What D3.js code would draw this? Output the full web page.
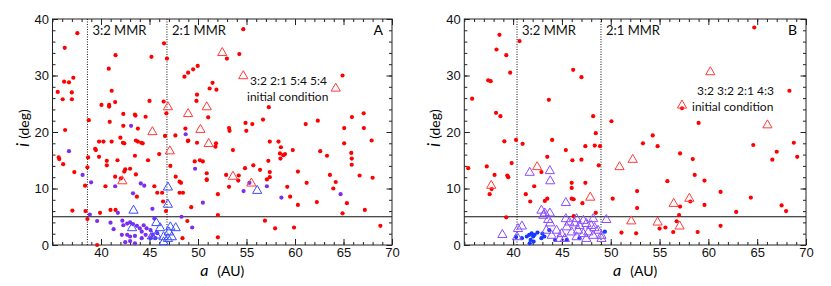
<!DOCTYPE html>
<html>
<head>
<meta charset="utf-8">
<script src="https://cdn.jsdelivr.net/npm/d3@7"></script>
<style>
  body { margin: 0; background: #fff; }
  svg { font-family: Lato, "DejaVu Sans", sans-serif; }
  .frame { fill: none; stroke: #222; stroke-width: 1; }
  .axis path { display: none; }
  .axis line { stroke: #222; }
  .axis text { font-size: 13px; fill: #111; }
  .mmr { stroke: #111; stroke-dasharray: 1,1.5; }
  .cut { stroke: #111; }
  .note { font-size: 12px; fill: #111; }
</style>
</head>
<body>
<svg id="chart" width="831" height="286"></svg>
<script>
// panel A values [a (AU), i (deg)]
const redDotsA = [
  [37.56,37.5],[36.26,34.9],[35.54,27.1],[36.05,25.8],[36.2,28.9],[36.7,28.8],[37.15,29.6],[36.99,27.0],[37.0,25.8],[36.3,20.35],
  [38.74,22.1],[40.8,31.2],[41.5,33.6],[41.1,27.3],[40.05,24.8],[40.84,24.8],[40.84,24.5],[41.46,25.3],[40.9,21.8],[42.3,23.2],
  [42.3,21.1],[43.5,23.1],[43.55,22.9],[43.8,20.6],[44.6,22.7],[45.0,25.5],[45.2,33.3],[46.46,25.4],[46.5,35.7],[46.8,33.0],
  [46.74,23.3],[46.6,19.3],[47.67,19.4],[48.7,20.6],[48.6,29.8],[48.98,30.5],[49.5,31.1],[49.97,31.7],[49.9,26.6],[49.84,25.5],
  [51.05,22.6],[51.2,27.7],[51.9,27.5],[51.5,28.7],[42.0,19.0],[42.26,18.1],[42.4,18.0],[39.8,18.3],[40.25,18.3],[39.4,17.0],
  [41.1,18.3],[43.6,18.5],[43.8,18.3],[44.15,18.1],[44.3,18.0],[49.0,18.5],[49.9,18.1],[54.67,38.2],[54.26,33.8],[52.98,33.0],
  [54.9,21.6],[55.6,21.4],[54.98,20.2],[53.2,20.7],[53.25,20.2],[48.95,18.4],[51.86,18.0],[53.6,16.8],[64.9,30.0],[57.3,24.4],
  [56.7,22.2],[61.1,21.4],[62.35,22.0],[65.87,22.65],[67.08,23.3],[65.07,20.7],[67.1,20.7],[67.9,18.5],[65.07,18.0],[57.4,18.3],
  [58.3,18.3],[58.55,17.3],[59.77,16.8],[62.6,16.6],[35.64,15.5],[35.7,15.2],[36.1,14.3],[37.25,12.9],[38.67,15.5],[38.6,13.75],
  [38.36,10.5],[37.05,6.1],[38.4,6.0],[38.6,4.6],[39.6,0.0],[39.9,5.7],[39.47,16.8],[39.8,15.6],[40.6,14.9],[40.6,14.1],
  [40.98,6.2],[41.5,6.2],[40.46,10.4],[41.46,12.1],[41.7,15.0],[42.05,11.8],[42.4,13.0],[42.5,13.4],[43.0,13.5],[43.5,15.8],
  [43.6,12.5],[44.85,15.0],[45.5,10.4],[46.0,16.1],[45.8,9.25],[46.3,9.25],[47.15,14.0],[47.7,12.1],[48.1,11.2],[48.25,11.0],
  [48.1,9.25],[48.45,9.25],[46.4,7.7],[46.7,6.0],[49.66,14.8],[50.2,15.0],[50.5,14.8],[50.9,11.5],[49.3,6.7],[48.9,4.25],
  [48.4,1.2],[43.7,8.55],[51.8,17.4],[58.45,16.2],[58.5,15.3],[58.8,15.9],[58.97,16.1],[57.25,14.9],[56.4,13.3],[55.7,14.1],
  [54.85,13.6],[52.9,12.4],[53.2,10.3],[54.2,12.3],[54.15,11.4],[50.9,12.7],[50.9,11.6],[57.1,11.6],[57.4,12.0],[57.4,12.9],
  [59.2,10.3],[59.5,8.55],[60.3,13.0],[61.2,11.0],[60.3,7.1],[52.05,9.0],[52.05,5.3],[52.05,1.35],[56.9,4.3],[57.95,2.95],
  [59.9,3.1],[63.3,15.8],[63.6,12.4],[64.2,11.15],[63.95,10.0],[65.8,16.3],[65.85,15.3],[65.85,14.2],[66.66,12.3],[68.0,11.9],
  [62.25,7.6],[65.35,7.4],[64.9,5.6],[67.2,6.2],[68.8,3.4]
];
const purpleDotsA = [
  [43.1,21.1],[48.73,19.6],[36.7,16.6],[38.1,12.4],[38.98,11.1],[38.85,5.4],[39.6,4.25],[41.46,10.4],[41.74,5.7],[40.98,3.95],
  [41.3,2.8],[43.3,9.15],[44.1,10.9],[44.46,10.5],[48.3,5.0],[49.7,13.5],[50.5,7.5],[49.4,3.1],[45.3,6.4],[45.5,4.7],
  [42.2,4.3],[42.3,3.5],[42.7,3.8],[43.0,4.0],[43.3,3.7],[42.15,1.8],[42.7,1.8],[43.0,1.5],[43.5,1.6],[42.5,0.5],
  [43.0,0.7],[43.5,0.3],[43.7,3.4],[44.0,2.95],[44.2,2.35],[44.4,3.5],[44.7,2.95],[44.6,1.8],[44.2,1.2],[45.1,2.65],
  [45.3,1.8],[45.1,1.2],[45.6,1.2],[45.8,2.1],[54.7,9.55],[55.3,11.0],[57.1,10.4],[58.6,8.4],[64.7,9.0]
];
const redTrisA = [
  [46.9,24.5],[45.3,20.1],[48.98,23.3],[50.9,24.5],[50.25,20.5],[51.1,18.0],[52.5,34.1],[54.67,30.0],[64.2,27.8],
  [47.1,16.7],[42.2,11.4],[53.6,12.2],[55.5,11.0]
];
const blueTrisA = [
  [46.9,10.3],[46.9,7.25],[43.35,6.2],[43.2,3.1],[45.7,4.0],[46.1,3.1],[45.7,1.8],[45.25,1.65],[46.45,1.5],[47.0,2.35],
  [47.15,3.25],[47.7,3.1],[46.9,1.2],[46.45,0.6],[47.3,1.5],[56.1,9.7]
];

// panel B values
const redDotsB = [
  [38.6,37.2],[38.3,34.6],[39.3,33.6],[39.7,30.5],[40.66,36.1],[35.8,25.9],[37.45,29.15],[37.7,29.0],[38.25,23.4],[38.7,22.8],
  [39.1,18.35],[40.3,18.6],[40.97,17.9],[43.66,25.7],[44.0,18.6],[46.15,31.0],[47.0,29.7],[48.2,22.8],[48.47,19.8],[48.36,17.6],
  [48.9,17.5],[47.4,17.5],[45.4,16.8],[50.07,21.9],[54.3,19.4],[53.3,18.0],[54.8,17.5],[43.5,15.6],[47.0,15.1],[48.77,14.1],
  [42.9,12.9],[55.8,11.3],[46.0,11.0],[46.0,10.1],[47.4,11.0],[42.16,10.4],[41.3,9.0],[52.7,9.55],[43.5,8.2],[46.0,8.2],
  [50.2,8.2],[35.4,13.6],[37.3,13.9],[37.6,9.0],[38.1,12.4],[37.8,9.9],[39.4,12.3],[39.5,12.0],[39.85,14.5],[41.75,7.7],
  [43.25,7.8],[46.07,15.0],[46.2,8.1],[47.1,7.4],[48.47,5.7],[39.3,4.9],[51.1,2.2],[46.2,5.1],[57.1,16.2],[58.4,15.2],
  [58.6,12.4],[59.6,11.4],[52.7,6.55],[58.15,7.7],[57.1,6.8],[57.0,5.3],[56.75,4.2],[55.6,3.1],[55.0,2.9],[56.4,2.3],
  [58.9,2.3],[52.6,2.07],[59.6,7.1],[61.25,9.4],[61.25,3.4],[62.85,5.85],[64.35,8.4],[64.6,17.7],[66.55,15.1],[67.0,16.5],
  [67.5,7.0],[67.96,6.0],[68.75,18.1],[69.1,15.6],[64.7,38.5],[68.3,27.3],[57.3,24.2],[59.0,21.6]
];
const blueDotsB = [
  [40.9,1.2],[41.4,1.5],[41.65,1.8],[41.8,0.9],[42.05,1.5],[42.2,1.8],[41.9,2.05],[42.1,0.6],[42.9,1.2],[43.2,1.5],
  [43.7,2.65],[44.3,0.9],[45.5,0.9],[46.8,1.2],[49.4,2.35],[40.3,1.4],[41.7,0.3],[42.5,2.2],[43.0,2.0]
];
const redTrisB = [
  [42.46,13.9],[37.76,10.6],[47.9,8.5],[50.9,13.9],[52.25,15.2],[52.1,4.3],[54.8,4.1],[56.45,7.4],[58.05,8.3],[57.05,3.4],
  [60.2,30.7],[57.3,24.8],[66.05,21.3]
];
const purpleTrisB = [
  [41.7,12.9],[43.76,13.2],[43.8,11.4],[45.4,7.55],[38.9,1.9],[40.5,2.95],[40.4,1.5],[43.25,5.7],[43.76,5.7],[43.8,3.95],
  [49.55,4.55],[45.4,4.7],[45.75,4.1],[46.3,3.95],[46.8,3.5],[47.5,3.85],[48.0,3.5],[48.35,3.1],[45.5,3.25],[44.45,2.65],
  [44.96,2.05],[43.95,1.75],[44.8,1.2],[46.0,2.35],[46.65,2.65],[47.2,2.05],[47.7,2.35],[48.2,1.75],[48.7,2.65],[49.05,1.75],
  [49.05,1.2],[45.3,1.2],[46.5,1.5],[47.5,1.2],[43.4,2.65],[48.2,4.7],[47.2,4.4],[46.5,4.7],[43.6,4.55],[42.9,6.2],
  [43.1,5.3],[40.9,3.4]
];

const mmrA = [38.6, 46.8];
const mmrB = [40.4, 49.0];
const mmrText = ["3:2 MMR", "2:1 MMR"];
const xTicks = [40, 45, 50, 55, 60, 65, 70];
const yTicks = [0, 10, 20, 30, 40];
const cutI = 5;

const svg = d3.select("#chart");
const y = d3.scaleLinear().domain([0, 40]).range([245, 19]);
const tri = "M0,-4.8L4.6,3.2L-4.6,3.2Z";

function panel(x, cfg) {
  const g = svg.append("g");
  const [x0, x1] = x.range();
  const yb = y(0), yt = y(40);

  // minor ticks on all sides
  g.append("g").attr("class", "axis").attr("transform", `translate(0,${yb})`)
    .call(d3.axisBottom(x).tickValues(d3.range(35, 71)).tickSize(-3).tickFormat(""));
  g.append("g").attr("class", "axis").attr("transform", `translate(0,${yt})`)
    .call(d3.axisTop(x).tickValues(d3.range(35, 71)).tickSize(-3).tickFormat(""));
  g.append("g").attr("class", "axis").attr("transform", `translate(0,${yb})`)
    .call(d3.axisBottom(x).tickValues(xTicks).tickSize(-6).tickPadding(3));
  g.append("g").attr("class", "axis").attr("transform", `translate(0,${yt})`)
    .call(d3.axisTop(x).tickValues(xTicks).tickSize(-6).tickFormat(""));
  g.append("g").attr("class", "axis").attr("transform", `translate(${x0},0)`)
    .call(d3.axisLeft(y).tickValues(d3.range(0, 41, 2)).tickSize(-3).tickFormat(""));
  g.append("g").attr("class", "axis").attr("transform", `translate(${x1},0)`)
    .call(d3.axisRight(y).tickValues(d3.range(0, 41, 2)).tickSize(-3).tickFormat(""));
  g.append("g").attr("class", "axis").attr("transform", `translate(${x0},0)`)
    .call(d3.axisLeft(y).tickValues(yTicks).tickSize(-5.5).tickPadding(3.5));
  g.append("g").attr("class", "axis").attr("transform", `translate(${x1},0)`)
    .call(d3.axisRight(y).tickValues(yTicks).tickSize(-5.5).tickFormat(""));

  g.append("rect").attr("class", "frame")
    .attr("x", x0).attr("y", yt).attr("width", x1 - x0).attr("height", yb - yt);

  // resonance lines + cut
  cfg.mmr.forEach((a, k) => {
    g.append("line").attr("class", "mmr")
      .attr("x1", x(a)).attr("x2", x(a)).attr("y1", yt).attr("y2", yb);
    g.append("text").attr("class", "note").style("font-size", "13px")
      .attr("x", x(a) + 5).attr("y", yt + 16).text(mmrText[k]);
  });
  g.append("line").attr("class", "cut")
    .attr("x1", x0).attr("x2", x1).attr("y1", y(cutI)).attr("y2", y(cutI));

  // dots, then triangles
  cfg.dots.forEach(s => {
    g.append("g").selectAll("circle").data(s.data).join("circle")
      .attr("cx", d => x(d[0])).attr("cy", d => y(d[1])).attr("r", 2.1)
      .attr("fill", s.color);
  });
  cfg.tris.forEach(s => {
    g.append("g").selectAll("path").data(s.data).join("path")
      .attr("d", tri)
      .attr("transform", d => `translate(${x(d[0])},${y(d[1])})`)
      .attr("fill", "none").attr("stroke", s.color).attr("stroke-width", 1);
  });

  // panel letter + note
  g.append("text").attr("x", x1 - 9).attr("y", yt + 16).attr("text-anchor", "end")
    .style("font-size", "14px").text(cfg.letter);
  g.append("text").attr("class", "note").attr("x", cfg.note[0]).attr("y", cfg.note[1])
    .text(cfg.noteText);
  g.append("text").attr("class", "note").attr("x", cfg.note[2]).attr("y", cfg.note[1] + 16)
    .text("initial condition");

  // axis titles
  g.append("text").attr("text-anchor", "middle")
    .attr("transform", `translate(${x0 - 24},${(yt + yb) / 2 - 4}) rotate(-90)`)
    .call(t => {
      t.append("tspan").style("font-style", "italic").style("font-size", "17px").text("i");
      t.append("tspan").style("font-size", "14px").attr("dx", 4).text("(deg)");
    });
  g.append("text").attr("text-anchor", "middle")
    .attr("x", (x0 + x1) / 2).attr("y", 276)
    .call(t => {
      t.append("tspan").style("font-style", "italic").style("font-size", "16px").text("a");
      t.append("tspan").style("font-size", "14px").attr("dx", 9).text("(AU)");
    });
}

const xA = d3.scaleLinear().domain([35, 70]).range([52.5, 392]);
const xB = d3.scaleLinear().domain([35, 70]).range([464.3, 806]);

panel(xA, {
  mmr: mmrA, letter: "A",
  dots: [{data: redDotsA, color: "#ff0000"}, {data: purpleDotsA, color: "#7a2ff0"}],
  tris: [{data: redTrisA, color: "#ff3a3a"}, {data: blueTrisA, color: "#3a4cff"}],
  noteText: "3:2 2:1 5:4 5:4", note: [250, 85, 247]
});
panel(xB, {
  mmr: mmrB, letter: "B",
  dots: [{data: redDotsB, color: "#ff0000"}, {data: blueDotsB, color: "#1638ff"}],
  tris: [{data: redTrisB, color: "#ff3a3a"}, {data: purpleTrisB, color: "#8a4cff"}],
  noteText: "3:2 3:2 2:1 4:3", note: [697, 95, 692]
});
</script>
</body>
</html>
